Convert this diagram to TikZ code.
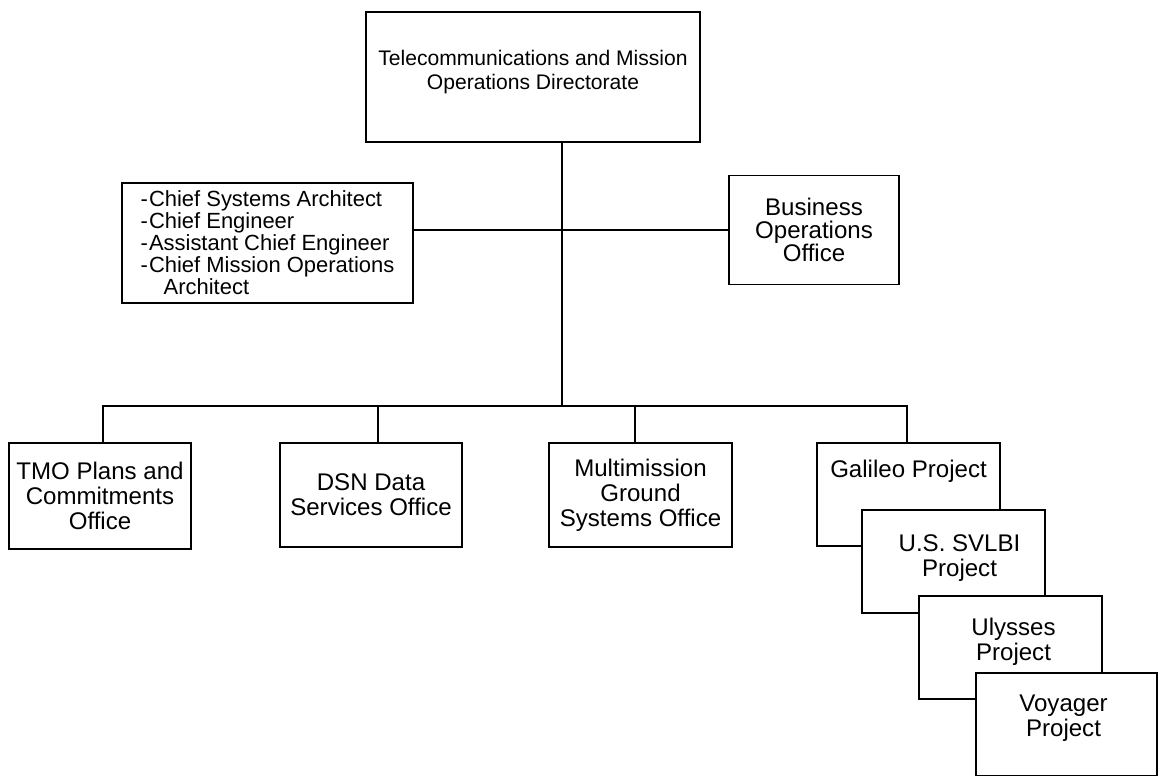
\documentclass[tikz,border=0pt]{standalone}
\usepackage{fontspec}
\setmainfont{Liberation Sans}
\usetikzlibrary{positioning}
\tikzset{
  orgbox/.style={draw=black, line width=1.1pt, fill=white, align=center, inner sep=0pt},
  boxfont/.style={font=\fontsize{13.7}{14.2}\selectfont},
}

\begin{document}
\begin{tikzpicture}[x=0.02cm, y=-0.02cm, line width=1.1pt]
\useasboundingbox (0,0) rectangle (1158,775);

%% Directorate and its staff
\node[orgbox, minimum width=6.68cm, minimum height=2.6cm] (tmod) at (533,77) {};
\node[font=\fontsize{12}{14.2}\selectfont, align=center] (tmodt) at ([yshift=-1.22cm]tmod.north)
  {Telecommunications and Mission\\Operations Directorate};
\node[orgbox, align=left, minimum width=5.82cm, minimum height=2.4cm,
  font=\fontsize{12.5}{12.5}\selectfont] (staff) at (267.5,243)
  {-\kern0.6pt Chief Systems Architect\\-\kern0.6pt Chief Engineer\\-\kern0.6pt Assistant Chief Engineer\\-\kern0.6pt Chief Mission Operations\\\hspace*{1.05em}Architect};
\node[orgbox, minimum width=3.4cm, minimum height=2.18cm,
  font=\fontsize{13.7}{13.1}\selectfont] (bizo) at (814,230)
  {Business\\Operations\\Office};

% Trunk line
\coordinate (hub) at (562,230);
\coordinate (trunk) at (562,406);
\draw (tmod.south -| hub) -- (trunk);
\draw (staff.east |- hub) -- (bizo.west |- hub);

%% Offices
\node[orgbox, boxfont, minimum width=3.64cm, minimum height=2.12cm] (plans) at (100,496)
  {TMO Plans and\\Commitments\\Office};
\node[orgbox, boxfont, minimum width=3.64cm, minimum height=2.08cm] (dsn) at (371,495)
  {DSN Data\\Services Office};
\node[orgbox, boxfont, minimum width=3.66cm, minimum height=2.08cm] (mgso) at (640.5,495)
  {Multimission\\Ground\\Systems Office};

%% Flight projects (stacked)
\node[orgbox, minimum width=3.66cm, minimum height=2.06cm] (gal) at (908.5,494.5) {};
\node[boxfont] (galt) at ([yshift=-0.58cm]gal.north) {Galileo Project};
\node[orgbox, minimum width=3.66cm, minimum height=2.06cm] (svlbi) at (953.5,561.5) {};
\node[boxfont, align=center] (svlbit) at ([xshift=0.12cm, yshift=-0.98cm]svlbi.north) {U.S. SVLBI\\Project};
\node[orgbox, minimum width=3.66cm, minimum height=2.06cm] (uly) at (1010.5,647.5) {};
\node[boxfont, align=center] (ulyt) at ([xshift=0.06cm, yshift=-0.93cm]uly.north) {Ulysses\\Project};
\node[orgbox, minimum width=3.62cm, minimum height=2.06cm] (voy) at (1066.5,724.5) {};
\node[boxfont, align=center] (voyt) at ([xshift=-0.06cm, yshift=-0.92cm]voy.north) {Voyager\\Project};

%% Bus and drops
\draw ([xshift=0.06cm]plans.north) |- (trunk) -| ([xshift=-0.03cm]gal.north);
\draw ([xshift=0.14cm]dsn.north) -- ([xshift=0.14cm]dsn.north |- trunk);
\draw ([xshift=-0.11cm]mgso.north) -- ([xshift=-0.11cm]mgso.north |- trunk);

\end{tikzpicture}
\end{document}
